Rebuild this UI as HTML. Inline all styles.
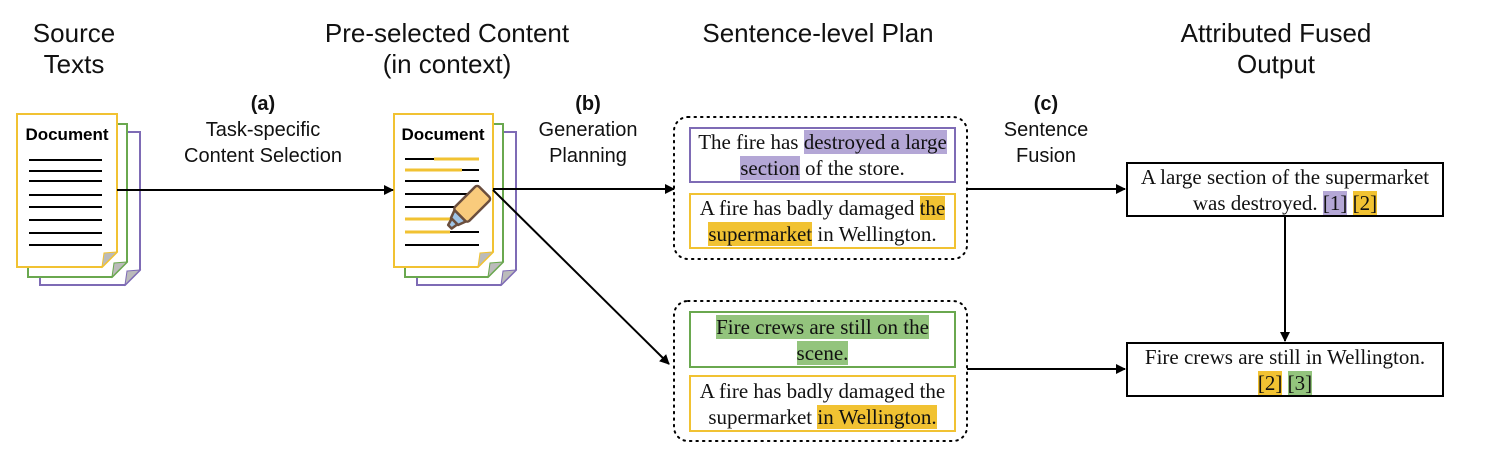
<!DOCTYPE html>
<html><head><meta charset="utf-8"><style>
body{margin:0;width:1491px;height:468px;background:#fff;position:relative;overflow:hidden;font-family:"Liberation Sans",sans-serif}
.t{position:absolute;text-align:center;font-size:26px;line-height:31px;color:#111;transform:translateX(-50%);white-space:nowrap}
.l{position:absolute;text-align:center;font-size:20px;line-height:26px;color:#111;transform:translateX(-50%);white-space:nowrap}
.b{position:absolute;box-sizing:border-box;background:#fff;font-family:"Liberation Serif",serif;font-size:21px;line-height:26px;text-align:center;color:#111;display:flex;align-items:center;justify-content:center;padding:0 2px;white-space:nowrap}
.p{background:#b4a7d6}.y{background:#f1c232}.g{background:#93c47d}
svg{position:absolute;left:0;top:0}
</style></head><body>
<svg width="1491" height="468">
<defs><marker id="ah" markerWidth="10" markerHeight="10" refX="9" refY="5" orient="auto" markerUnits="userSpaceOnUse"><path d="M0,0 L10,5 L0,10 z" fill="#000"/></marker></defs>
<g stroke-width="2">
<path d="M40,132 H140 V270 L125,285 H40 Z" fill="#fff" stroke="#7e6bb5"/>
<path d="M125,285 L127,271 L140,270 Z" fill="#bbb" stroke="#7e6bb5" stroke-width="1"/>
<path d="M28,124 H127 V262 L112,277 H28 Z" fill="#fff" stroke="#6aa84f"/>
<path d="M112,277 L114,263 L127,262 Z" fill="#bbb" stroke="#6aa84f" stroke-width="1"/>
<path d="M17,114 H117 V252 L102,267 H17 Z" fill="#fff" stroke="#f1c232"/>
<path d="M102,267 L104,253 L117,252 Z" fill="#bbb" stroke="#f1c232" stroke-width="1"/>
</g>
<text x="67" y="140" font-size="17" font-weight="bold" text-anchor="middle" font-family="Liberation Sans,sans-serif">Document</text>
<g stroke="#000" stroke-width="2">
<line x1="29" x2="102" y1="160" y2="160"/><line x1="29" x2="102" y1="171" y2="171"/><line x1="29" x2="102" y1="181" y2="181"/><line x1="29" x2="102" y1="195" y2="195"/><line x1="29" x2="102" y1="207" y2="207"/><line x1="29" x2="102" y1="220" y2="220"/><line x1="29" x2="102" y1="233" y2="233"/><line x1="29" x2="102" y1="245" y2="245"/>
</g>
<g stroke-width="2">
<path d="M417,132 H516 V270 L501,285 H417 Z" fill="#fff" stroke="#7e6bb5"/>
<path d="M501,285 L503,271 L516,270 Z" fill="#bbb" stroke="#7e6bb5" stroke-width="1"/>
<path d="M405,124 H503 V262 L488,277 H405 Z" fill="#fff" stroke="#6aa84f"/>
<path d="M488,277 L490,263 L503,262 Z" fill="#bbb" stroke="#6aa84f" stroke-width="1"/>
<path d="M394,114 H493 V252 L478,267 H394 Z" fill="#fff" stroke="#f1c232"/>
<path d="M478,267 L480,253 L493,252 Z" fill="#bbb" stroke="#f1c232" stroke-width="1"/>
</g>
<text x="443" y="140" font-size="17" font-weight="bold" text-anchor="middle" font-family="Liberation Sans,sans-serif">Document</text>
<g stroke-width="2">
<line x1="405" x2="434" y1="159" y2="159" stroke="#000"/><line x1="434" x2="479" y1="159" y2="159" stroke="#f1c232" stroke-width="3"/>
<line x1="405" x2="462" y1="170" y2="170" stroke="#f1c232" stroke-width="3"/><line x1="462" x2="479" y1="170" y2="170" stroke="#000"/>
<line x1="405" x2="479" y1="181" y2="181" stroke="#000"/>
<line x1="405" x2="479" y1="194" y2="194" stroke="#000"/>
<line x1="405" x2="479" y1="207" y2="207" stroke="#000"/>
<line x1="405" x2="450" y1="219" y2="219" stroke="#f1c232" stroke-width="3"/>
<line x1="405" x2="450" y1="232" y2="232" stroke="#f1c232" stroke-width="3"/><line x1="450" x2="479" y1="232" y2="232" stroke="#000"/>
<line x1="405" x2="479" y1="245" y2="245" stroke="#000"/>
</g>
<g transform="translate(463,213) rotate(-45)" stroke="#6b4e3d" stroke-width="2.5" stroke-linejoin="round">
<rect x="-4" y="-10" width="34" height="20" rx="3" fill="#f9cb7c"/>
<path d="M-4,-8 L-12,-5 L-12,5 L-4,8 Z" fill="#9fc5e8"/>
<path d="M-12,-4 L-19,-2 L-19,3 L-12,4 Z" fill="#9fc5e8"/>
</g>
<g stroke="#000" stroke-width="2" fill="none">
<line x1="117" y1="190" x2="393" y2="190" marker-end="url(#ah)"/>
<line x1="493" y1="189" x2="674" y2="189" marker-end="url(#ah)"/>
<line x1="493" y1="190" x2="669" y2="364" marker-end="url(#ah)"/>
<line x1="967" y1="189" x2="1125" y2="189" marker-end="url(#ah)"/>
<line x1="967" y1="369" x2="1125" y2="369" marker-end="url(#ah)"/>
<line x1="1285" y1="216" x2="1285" y2="341" marker-end="url(#ah)"/>
</g>
<rect x="674" y="117" width="293" height="142" rx="14" fill="none" stroke="#000" stroke-width="2" stroke-dasharray="1.5 5" stroke-linecap="round"/>
<rect x="674" y="301" width="293" height="140" rx="14" fill="none" stroke="#000" stroke-width="2" stroke-dasharray="1.5 5" stroke-linecap="round"/>
</svg>
<div class="t" style="left:74px;top:18px">Source<br>Texts</div>
<div class="t" style="left:447px;top:18px">Pre-selected Content<br>(in context)</div>
<div class="t" style="left:818px;top:18px">Sentence-level Plan</div>
<div class="t" style="left:1276px;top:18px">Attributed Fused<br>Output</div>
<div class="l" style="left:263px;top:91px"><b>(a)</b><br>Task-specific<br>Content Selection</div>
<div class="l" style="left:588px;top:91px"><b>(b)</b><br>Generation<br>Planning</div>
<div class="l" style="left:1046px;top:91px"><b>(c)</b><br>Sentence<br>Fusion</div>
<div class="b" style="left:689px;top:127px;width:267px;height:56px;border:2px solid #7e6bb5"><div>The fire has <span class="p">destroyed a large</span><br><span class="p">section</span> of the store.</div></div>
<div class="b" style="left:689px;top:193px;width:267px;height:56px;border:2px solid #f1c232"><div>A fire has badly damaged <span class="y">the</span><br><span class="y">supermarket</span> in Wellington.</div></div>
<div class="b" style="left:689px;top:311px;width:267px;height:57px;border:2px solid #6aa84f"><div><span class="g">Fire crews are still on the</span><br><span class="g">scene.</span></div></div>
<div class="b" style="left:689px;top:375px;width:267px;height:57px;border:2px solid #f1c232"><div>A fire has badly damaged the<br>supermarket <span class="y">in Wellington.</span></div></div>
<div class="b" style="left:1126px;top:162px;width:318px;height:55px;border:2px solid #000"><div>A large section of the supermarket<br>was destroyed. <span class="p">[1]</span> <span class="y">[2]</span></div></div>
<div class="b" style="left:1126px;top:342px;width:318px;height:55px;border:2px solid #000"><div>Fire crews are still in Wellington.<br><span class="y">[2]</span> <span class="g">[3]</span></div></div>
</body></html>
